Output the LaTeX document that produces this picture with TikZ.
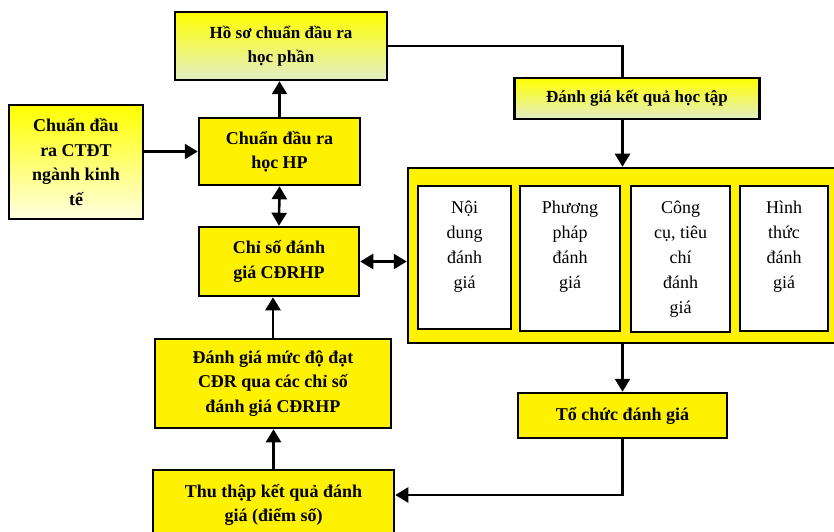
\documentclass[tikz,border=0pt]{standalone}
\usepackage{fontspec}
\setmainfont{Liberation Serif}
\usepackage{tikz}
\usetikzlibrary{arrows.meta,shapes,positioning}

\definecolor{paleGreen}{RGB}{226,238,198}
\definecolor{paleCream}{RGB}{255,255,226}

\begin{document}
\begin{tikzpicture}[x=1pt,y=1pt,line width=2.5pt,
  font=\fontsize{18}{24.5}\selectfont\bfseries,
  main node/.style={rectangle,draw,fill=yellow,align=center,inner sep=2pt},
  shade node/.style={main node,top color=yellow,bottom color=paleGreen,
    font=\fontsize{17}{24}\selectfont\bfseries},
  pale node/.style={main node,top color=yellow,bottom color=paleCream},
  inner node/.style={rectangle,draw,fill=white,line width=2pt,anchor=north west},
  cell text/.style={anchor=north,align=center,yshift=-11pt,
    font=\fontsize{18}{25}\selectfont},
  arr/.style={-{Triangle[length=13pt,width=15pt]}},
  dbl/.style={{Triangle[length=13pt,width=15pt]}-{Triangle[length=13pt,width=15pt]}}]

  \useasboundingbox (0,0) rectangle (834,531);

  \node[shade node,minimum width=212,minimum height=68] (1) at (281,485)
    {Hồ sơ chuẩn đầu ra\\học phần};
  \node[shade node,minimum width=245,minimum height=41] (2) at (637,432.5)
    {Đánh giá kết quả học tập};
  \node[pale node,minimum width=134,minimum height=114] (3) at (76,369)
    {Chuẩn đầu\\ra CTĐT\\ngành kinh\\tế};
  \node[main node,minimum width=161,minimum height=67] (4) at (279.5,379.5)
    {Chuẩn đầu ra\\học HP};
  \node[main node,minimum width=160,minimum height=69] (5) at (279,269.5)
    {Chỉ số đánh\\giá CĐRHP};

  % khung danh gia
  \node[main node,minimum width=437,minimum height=175] (6) at (626.5,275.5) {};
  \node[inner node,minimum width=93,minimum height=143,
    label={[cell text]north:{Nội\\dung\\đánh\\giá}}] (6a) at (417,346) {};
  \node[inner node,minimum width=100,minimum height=145,
    right=7pt of 6a.north east,anchor=north west,
    label={[cell text]north:{Phương\\pháp\\đánh\\giá}}] (6b) {};
  \node[inner node,minimum width=99,minimum height=146,
    right=9pt of 6b.north east,anchor=north west,
    label={[cell text]north:{Công\\cụ, tiêu\\chí\\đánh\\giá}}] (6c) {};
  \node[inner node,minimum width=88,minimum height=145,
    right=8pt of 6c.north east,anchor=north west,
    label={[cell text]north:{Hình\\thức\\đánh\\giá}}] (6d) {};

  \node[main node,minimum width=236,minimum height=89] (7) at (273,147.5)
    {Đánh giá mức độ đạt\\CĐR qua các chỉ số\\đánh giá CĐRHP};
  \node[main node,minimum width=209,minimum height=45] (8) at (622.5,115.5)
    {Tổ chức đánh giá};
  \node[main node,minimum width=241,minimum height=70] (9) at (273.5,26)
    {Thu thập kết quả đánh\\giá (điểm số)};

  \draw[arr] (4.north) -- (4.north |- 1.south);
  \draw (1.east) -| (2.north -| 8.north);
  \draw[arr] (2.south -| 8.north) -- (6.north -| 8.north);
  \draw[arr] (3.east |- 4) -- (4.west);
  \draw[dbl] (4.south) -- (5.north);
  \draw[dbl] (5.east) -- (5.east -| 6.west);
  \draw[arr] (6.south -| 8.north) -- (8.north);
  \draw[arr] (7.north) -- (7.north |- 5.south);
  \draw[arr] (9.north) -- (9.north |- 7.south);
  \draw[arr] (8.south) |- ([yshift=10pt]9.east);
\end{tikzpicture}
\end{document}
